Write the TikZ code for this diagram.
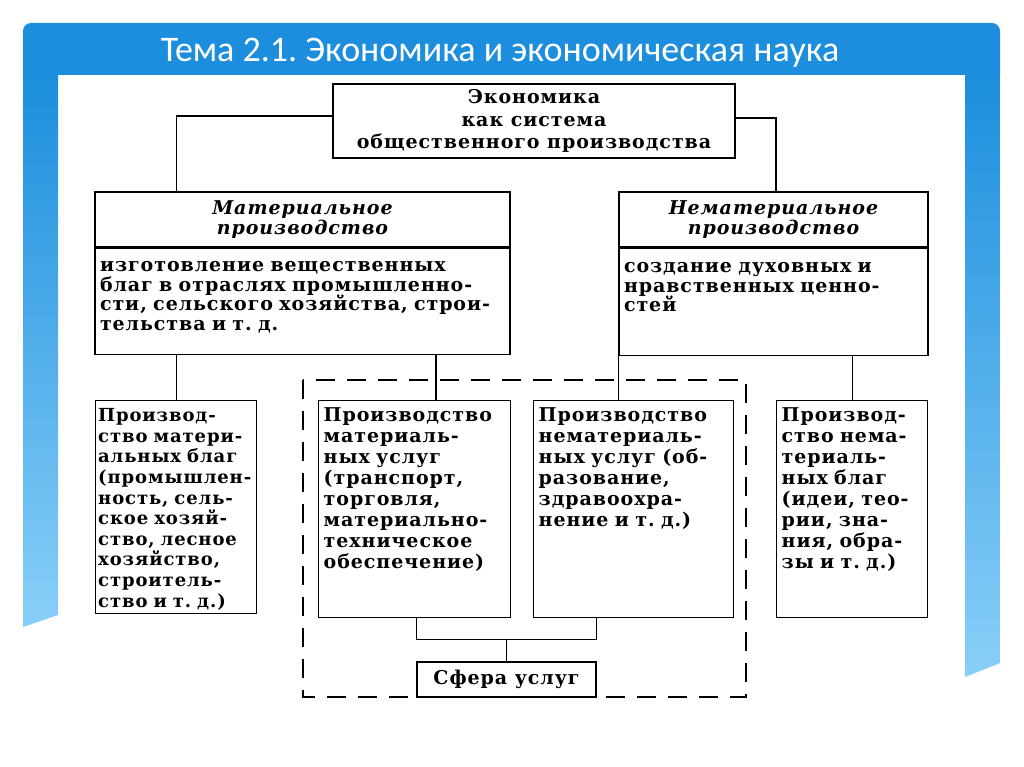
\documentclass[tikz,border=0pt]{standalone}
\usepackage{fontspec}
\setmainfont{DejaVu Serif}[LetterSpace=5]
\newfontfamily\titlefont{Carlito}
\usetikzlibrary{positioning}
\definecolor{slideblue}{HTML}{1C8EDD}
\definecolor{barlight}{HTML}{88CFF8}
\frenchspacing

\begin{document}
\begin{tikzpicture}[x=1pt, y=-1pt]
    \tikzstyle{every node} = [inner sep=0pt, font=\fontsize{19}{21}\selectfont\bfseries]
    \tikzstyle{frame} = [draw, line width=1.4pt]
    \tikzstyle{head} = [frame, align=center, font=\fontsize{19}{20}\selectfont\bfseries\itshape]
    \tikzstyle{cell} = [frame, align=left, anchor=north west, inner xsep=5pt]
    \tikzstyle{link} = [line width=1.3pt]
    \useasboundingbox (0,0) rectangle (1024,767);
    \fill[white] (0,0) rectangle (1024,767);
    % slide frame
    \fill[slideblue] (23,75) [rounded corners=8pt] -- (23,23) -- (1000,23) [sharp corners] -- (1000,75) -- cycle;
    \shade[top color=slideblue, bottom color=barlight] (23,75) -- (58,75) -- (58,615) -- (23,627) -- cycle;
    \shade[top color=slideblue, bottom color=barlight] (965,75) -- (1000,75) -- (1000,663) -- (965,677) -- cycle;
    \node[font=\titlefont\fontsize{36}{40}\selectfont, text=white, anchor=base] (title) at (500,62) {Тема 2.1. Экономика и экономическая наука};

    \node[frame, minimum width=402pt, minimum height=74pt, align=center, font=\fontsize{19}{22.5}\selectfont\bfseries] (econ) at (534,121)
        {Экономика\\как система\\общественного производства};

    \node[head, minimum width=415pt, minimum height=55pt] (mathead) at (302.5,219.5) {Материальное\\производство};
    \node[cell, text width=405pt, text height=23pt, text depth=83pt, font=\fontsize{19}{19.7}\selectfont\bfseries] (matbody) at (mathead.south west)
        {изготовление вещественных\\
         \makebox[\linewidth][s]{благ в отраслях промышленно-}\\
         \makebox[\linewidth][s]{сти, сельского хозяйства, строи-}\\
         тельства и т. д.};

    \node[head, minimum width=309pt, minimum height=55pt] (nonhead) at (773.5,219.5) {Нематериальное\\производство};
    \node[cell, text width=299pt, text height=24pt, text depth=83pt, font=\fontsize{19}{19.7}\selectfont\bfseries] (nonbody) at (nonhead.south west)
        {создание духовных и\\нравственных ценно-\\стей};

    \node[cell, inner xsep=2.5pt, text width=156pt, text height=21pt, text depth=192pt, font=\fontsize{18}{20.6}\selectfont\bfseries] (b1) at (95,400)
        {Производ-\\ство матери-\\альных благ\\(промышлен-\\ность, сель-\\ское хозяй-\\ство, лесное\\хозяйство,\\строитель-\\ство и т. д.)};
    \node[cell, text width=182pt, text height=21pt, text depth=196pt] (b2) at (318,400)
        {Производство\\материаль-\\ных услуг\\(транспорт,\\торговля,\\материально-\\техническое\\обеспечение)};
    \node[cell, text width=190pt, text height=21pt, text depth=196pt] (b3) at (533,400)
        {Производство\\нематериаль-\\ных услуг (об-\\разование,\\здравоохра-\\нение и т. д.)};
    \node[cell, text width=141pt, text height=21pt, text depth=196pt] (b4) at (776,400)
        {Производ-\\ство нема-\\териаль-\\ных благ\\(идеи, тео-\\рии, зна-\\ния, обра-\\зы и т. д.)};

    \node[frame, minimum width=179pt, minimum height=35pt] (sfera) at (506.5,679.5) {Сфера услуг};

    % services area
    \draw[line width=1.3pt, dash pattern=on 19pt off 12pt] (303,380) rectangle (746,697);

    \draw[link] ([yshift=5pt]econ.west) -| (b1.north |- mathead.north);
    \draw[link] ([yshift=3pt]econ.east) -| (b4.north west |- nonhead.north);
    \draw[link] (b1.north |- matbody.south) -- (b1.north);
    \coordinate (b2top) at ([xshift=118pt]b2.north west);
    \draw[link] (b2top |- matbody.south) -- (b2top);
    \draw[link] (nonbody.south west) -- (nonbody.south west |- b3.north);
    \draw[link] (b4.north |- nonbody.south) -- (b4.north);
    \coordinate (join) at ([yshift=22pt]sfera.north);
    \draw[link] (b2.south -| sfera.west) |- (join) -| (b3.south -| sfera.east);
    \draw[link] (join) -- (sfera.north);
\end{tikzpicture}
\end{document}
